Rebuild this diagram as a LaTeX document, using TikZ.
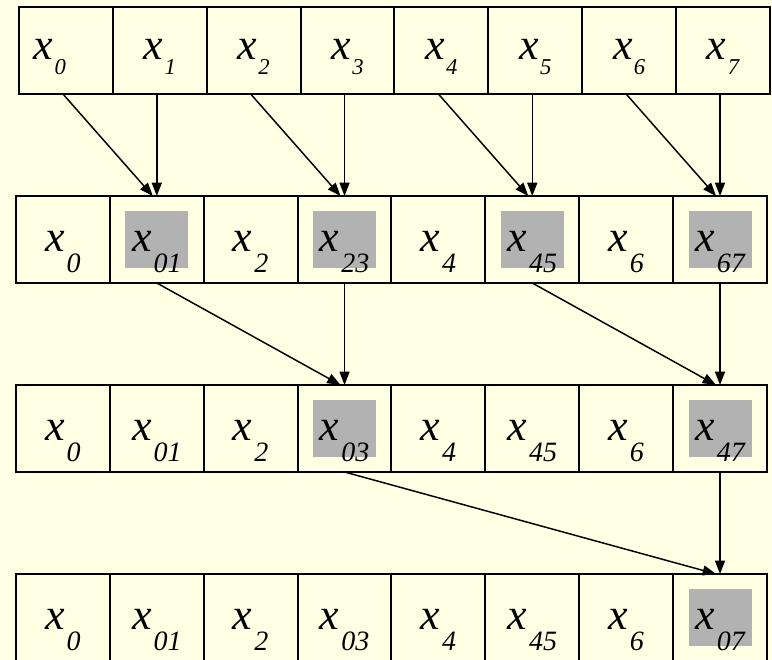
\documentclass[tikz,border=0pt]{standalone}
\usepackage{fontspec}
\setmainfont{Liberation Serif}
\newfontfamily\timesit{Liberation Serif Italic}
\usepackage{xcolor}
\usepackage{tikz}
\usetikzlibrary{arrows.meta, positioning}
\definecolor{PaleYellow}{RGB}{255,255,228}
\definecolor{SumGray}{RGB}{178,178,178}
\newcommand{\topx}[1]{\timesit\fontsize{33}{33}\selectfont x\kern1pt\raisebox{-11pt}{\fontsize{17}{17}\selectfont #1}}
\newcommand{\subx}[1]{\timesit\fontsize{33}{33}\selectfont x\kern1.5pt\raisebox{-16pt}{\fontsize{21}{21}\selectfont #1}}

\begin{document}
\begin{tikzpicture}[x=0.75pt, y=-0.75pt,
    cell/.style={draw, line width=1.5pt, fill=PaleYellow, minimum width=70.4pt, minimum height=65.25pt,
        inner sep=0pt, outer sep=0pt, text height=41.25pt, text depth=24pt},
    topcell/.style={cell, text height=39.75pt, text depth=25.5pt},
    sum/.style={path picture={\fill[SumGray] ([xshift=-23.6pt,yshift=-21.4pt]path picture bounding box.center) rectangle ++(47.25pt,42.75pt);}},
    link/.style={-{Triangle[length=10pt,width=7.5pt]}, line width=1.1pt}]
    \path[use as bounding box, fill=PaleYellow] (0,0) rectangle (772,660);

    % --- row 1: input ---
    \node[topcell] (r1c0) at (65.94,50.5) {\kern-24pt\topx{0}};
    \node[topcell, right=0pt of r1c0] (r1c1) {\topx{1}};
    \node[topcell, right=0pt of r1c1] (r1c2) {\topx{2}};
    \node[topcell, right=0pt of r1c2] (r1c3) {\topx{3}};
    \node[topcell, right=0pt of r1c3] (r1c4) {\topx{4}};
    \node[topcell, right=0pt of r1c4] (r1c5) {\topx{5}};
    \node[topcell, right=0pt of r1c5] (r1c6) {\topx{6}};
    \node[topcell, right=0pt of r1c6] (r1c7) {\topx{7}};

    % --- row 2: pairs ---
    \node[cell] (r2c0) at (62.94,239.5) {\subx{0}};
    \node[cell, sum, right=0pt of r2c0] (r2c1) {\subx{01}};
    \node[cell, right=0pt of r2c1] (r2c2) {\subx{2}};
    \node[cell, sum, right=0pt of r2c2] (r2c3) {\subx{23}};
    \node[cell, right=0pt of r2c3] (r2c4) {\subx{4}};
    \node[cell, sum, right=0pt of r2c4] (r2c5) {\subx{45}};
    \node[cell, right=0pt of r2c5] (r2c6) {\subx{6}};
    \node[cell, sum, right=0pt of r2c6] (r2c7) {\subx{67}};

    % --- row 3: quads ---
    \node[cell] (r3c0) at (62.94,428.5) {\subx{0}};
    \node[cell, right=0pt of r3c0] (r3c1) {\subx{01}};
    \node[cell, right=0pt of r3c1] (r3c2) {\subx{2}};
    \node[cell, sum, right=0pt of r3c2] (r3c3) {\subx{03}};
    \node[cell, right=0pt of r3c3] (r3c4) {\subx{4}};
    \node[cell, right=0pt of r3c4] (r3c5) {\subx{45}};
    \node[cell, right=0pt of r3c5] (r3c6) {\subx{6}};
    \node[cell, sum, right=0pt of r3c6] (r3c7) {\subx{47}};

    % --- row 4: total ---
    \node[cell] (r4c0) at (62.94,617.5) {\subx{0}};
    \node[cell, right=0pt of r4c0] (r4c1) {\subx{01}};
    \node[cell, right=0pt of r4c1] (r4c2) {\subx{2}};
    \node[cell, right=0pt of r4c2] (r4c3) {\subx{03}};
    \node[cell, right=0pt of r4c3] (r4c4) {\subx{4}};
    \node[cell, right=0pt of r4c4] (r4c5) {\subx{45}};
    \node[cell, right=0pt of r4c5] (r4c6) {\subx{6}};
    \node[cell, sum, right=0pt of r4c6] (r4c7) {\subx{07}};

    % --- arrows ---
    \draw[link] (r1c0.south -| r2c0) -- ([xshift=-3pt]r2c1.north);
    \draw[link] (r1c1.south -| r2c1) -- (r2c1.north);
    \draw[link] (r1c2.south -| r2c2) -- ([xshift=-3pt]r2c3.north);
    \draw[link] (r1c3.south -| r2c3) -- (r2c3.north);
    \draw[link] (r1c4.south -| r2c4) -- ([xshift=-3pt]r2c5.north);
    \draw[link] (r1c5.south -| r2c5) -- (r2c5.north);
    \draw[link] (r1c6.south -| r2c6) -- ([xshift=-3pt]r2c7.north);
    \draw[link] (r1c7.south -| r2c7) -- (r2c7.north);

    \draw[link] (r2c1.south) -- ([xshift=-3pt]r3c3.north);
    \draw[link] (r2c3.south) -- (r3c3.north);
    \draw[link] (r2c5.south) -- ([xshift=-3pt]r3c7.north);
    \draw[link] (r2c7.south) -- (r3c7.north);

    \draw[link] (r3c3.south) -- ([xshift=-3pt]r4c7.north);
    \draw[link] (r3c7.south) -- (r4c7.north);
\end{tikzpicture}
\end{document}
